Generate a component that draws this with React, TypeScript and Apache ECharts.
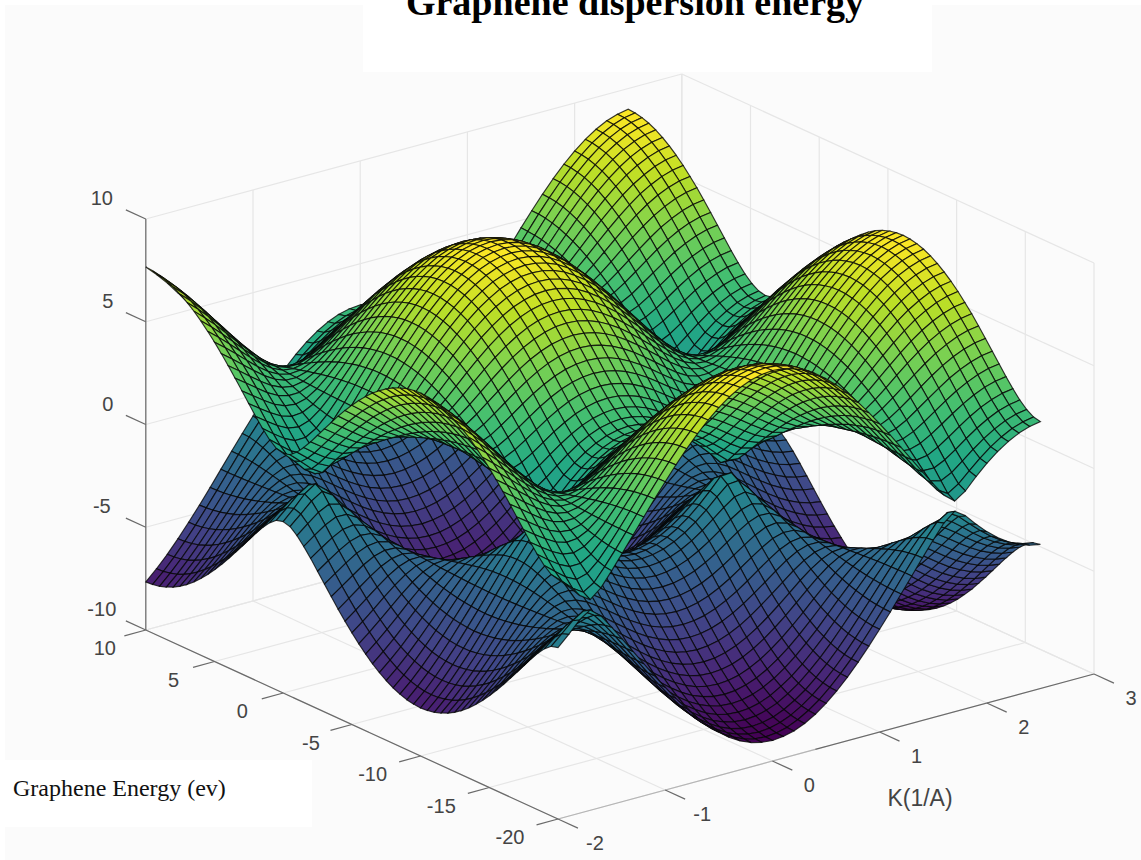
import React, { useEffect, useRef } from "react";
import * as echarts from "echarts";

const kValues = [-2,-1.9,-1.8,-1.7,-1.6,-1.5,-1.4,-1.3,-1.2,-1.1,-1,-0.9,-0.8,-0.7,-0.6,-0.5,-0.4,-0.3,-0.2,-0.1,0,0.1,0.2,0.3,0.4,0.5,0.6,0.7,0.8,0.9,1,1.1,1.2,1.3,1.4,1.5,1.6,1.7,1.8,1.9,2,2.1,2.2,2.3,2.4,2.5];
const qValues = [-20,-19.5,-19,-18.5,-18,-17.5,-17,-16.5,-16,-15.5,-15,-14.5,-14,-13.5,-13,-12.5,-12,-11.5,-11,-10.5,-10,-9.5,-9,-8.5,-8,-7.5,-7,-6.5,-6,-5.5,-5,-4.5,-4,-3.5,-3,-2.5,-2,-1.5,-1,-0.5,0,0.5,1,1.5,2,2.5,3,3.5,4,4.5,5,5.5,6,6.5,7,7.5,8,8.5,9,9.5,10];

const U0 = [1.66,1.16,.60,.25,.68,1.37,2.09,2.83,3.57,4.30,5.00,5.68,6.32,6.91,7.44,7.90,8.29,8.60,8.82,8.95,9.00,8.95,8.82,8.60,8.29,7.90,7.44,6.91,6.32,5.68,5.00,4.30,3.57,2.83,2.09,1.37,.68,.25,.60,1.16,1.66,2.09,2.44,2.71,2.89,2.99];
const U1 = [1.75,1.28,.79,.46,.79,1.42,2.11,2.83,3.56,4.29,4.99,5.67,6.31,6.89,7.42,7.88,8.26,8.57,8.80,8.93,8.98,8.93,8.80,8.57,8.26,7.88,7.42,6.89,6.31,5.67,4.99,4.29,3.56,2.83,2.11,1.42,.79,.46,.79,1.28,1.75,2.17,2.51,2.78,2.96,3.06];
const U2 = [2.03,1.60,1.19,.93,1.07,1.54,2.16,2.84,3.55,4.25,4.94,5.61,6.25,6.83,7.35,7.81,8.19,8.50,8.72,8.85,8.90,8.85,8.72,8.50,8.19,7.81,7.35,6.83,6.25,5.61,4.94,4.25,3.55,2.84,2.16,1.54,1.07,.93,1.19,1.60,2.03,2.42,2.74,3.00,3.18,3.27];
const U3 = [2.41,2.01,1.65,1.40,1.41,1.72,2.23,2.85,3.52,4.20,4.87,5.53,6.15,6.72,7.24,7.70,8.07,8.38,8.60,8.73,8.78,8.73,8.60,8.38,8.07,7.70,7.24,6.72,6.15,5.53,4.87,4.20,3.52,2.85,2.23,1.72,1.41,1.40,1.65,2.01,2.41,2.77,3.08,3.33,3.49,3.58];
const U4 = [2.84,2.47,2.12,1.85,1.77,1.94,2.33,2.86,3.48,4.12,4.77,5.40,6.02,6.58,7.09,7.54,7.91,8.22,8.43,8.56,8.61,8.56,8.43,8.22,7.91,7.54,7.09,6.58,6.02,5.40,4.77,4.12,3.48,2.86,2.33,1.94,1.77,1.85,2.12,2.47,2.84,3.19,3.49,3.72,3.89,3.97];
const U5 = [3.31,2.94,2.59,2.29,2.13,2.18,2.44,2.88,3.43,4.02,4.64,5.25,5.84,6.39,6.90,7.34,7.70,8.01,8.22,8.35,8.39,8.35,8.22,8.01,7.70,7.34,6.90,6.39,5.84,5.25,4.64,4.02,3.43,2.88,2.44,2.18,2.13,2.29,2.59,2.94,3.31,3.65,3.94,4.17,4.33,4.41];
const U6 = [3.78,3.41,3.04,2.71,2.49,2.43,2.57,2.90,3.37,3.91,4.48,5.06,5.64,6.17,6.66,7.09,7.46,7.75,7.96,8.09,8.13,8.09,7.96,7.75,7.46,7.09,6.66,6.17,5.64,5.06,4.48,3.91,3.37,2.90,2.57,2.43,2.49,2.71,3.04,3.41,3.78,4.12,4.40,4.63,4.79,4.87];
const U7 = [4.24,3.87,3.49,3.12,2.84,2.69,2.71,2.93,3.30,3.77,4.30,4.85,5.39,5.91,6.39,6.81,7.17,7.46,7.66,7.79,7.83,7.79,7.66,7.46,7.17,6.81,6.39,5.91,5.39,4.85,4.30,3.77,3.30,2.93,2.71,2.69,2.84,3.12,3.49,3.87,4.24,4.59,4.87,5.10,5.26,5.34];
const U8 = [4.70,4.31,3.91,3.52,3.18,2.94,2.85,2.95,3.22,3.62,4.09,4.60,5.12,5.62,6.08,6.49,6.84,7.12,7.33,7.45,7.49,7.45,7.33,7.12,6.84,6.49,6.08,5.62,5.12,4.60,4.09,3.62,3.22,2.95,2.85,2.94,3.18,3.52,3.91,4.31,4.70,5.05,5.34,5.57,5.73,5.81];
const U9 = [5.13,4.73,4.31,3.89,3.50,3.18,2.99,2.98,3.14,3.45,3.86,4.32,4.81,5.29,5.73,6.13,6.47,6.75,6.95,7.07,7.11,7.07,6.95,6.75,6.47,6.13,5.73,5.29,4.81,4.32,3.86,3.45,3.14,2.98,2.99,3.18,3.50,3.89,4.31,4.73,5.13,5.49,5.78,6.02,6.18,6.26];
const U10 = [5.54,5.13,4.69,4.23,3.79,3.41,3.13,3.00,3.05,3.27,3.61,4.02,4.48,4.93,5.36,5.75,6.08,6.35,6.55,6.67,6.71,6.67,6.55,6.35,6.08,5.75,5.36,4.93,4.48,4.02,3.61,3.27,3.05,3.00,3.13,3.41,3.79,4.23,4.69,5.13,5.54,5.91,6.21,6.45,6.61,6.70];
const U11 = [5.92,5.49,5.03,4.55,4.07,3.63,3.27,3.03,2.97,3.08,3.34,3.70,4.12,4.54,4.95,5.33,5.66,5.92,6.12,6.23,6.28,6.23,6.12,5.92,5.66,5.33,4.95,4.54,4.12,3.70,3.34,3.08,2.97,3.03,3.27,3.63,4.07,4.55,5.03,5.49,5.92,6.30,6.61,6.85,7.02,7.10];
const U12 = [6.27,5.83,5.35,4.84,4.32,3.83,3.39,3.06,2.88,2.88,3.05,3.35,3.73,4.13,4.52,4.89,5.21,5.47,5.66,5.78,5.82,5.78,5.66,5.47,5.21,4.89,4.52,4.13,3.73,3.35,3.05,2.88,2.88,3.06,3.39,3.83,4.32,4.84,5.35,5.83,6.27,6.66,6.97,7.22,7.39,7.48];
const U13 = [6.59,6.13,5.64,5.10,4.55,4.01,3.51,3.08,2.79,2.67,2.75,2.98,3.32,3.69,4.08,4.44,4.75,5.01,5.20,5.31,5.35,5.31,5.20,5.01,4.75,4.44,4.08,3.69,3.32,2.98,2.75,2.67,2.79,3.08,3.51,4.01,4.55,5.10,5.64,6.13,6.59,6.98,7.30,7.56,7.73,7.82];
const U14 = [6.86,6.40,5.89,5.33,4.75,4.17,3.61,3.10,2.71,2.47,2.44,2.59,2.89,3.24,3.61,3.97,4.28,4.54,4.73,4.84,4.88,4.84,4.73,4.54,4.28,3.97,3.61,3.24,2.89,2.59,2.44,2.47,2.71,3.10,3.61,4.17,4.75,5.33,5.89,6.40,6.86,7.27,7.60,7.85,8.03,8.12];
const U15 = [7.10,6.63,6.10,5.53,4.92,4.31,3.70,3.12,2.63,2.28,2.12,2.19,2.44,2.78,3.14,3.50,3.81,4.07,4.26,4.38,4.42,4.38,4.26,4.07,3.81,3.50,3.14,2.78,2.44,2.19,2.12,2.28,2.63,3.12,3.70,4.31,4.92,5.53,6.10,6.63,7.10,7.51,7.85,8.11,8.29,8.38];
const U16 = [7.30,6.82,6.28,5.69,5.07,4.42,3.77,3.14,2.56,2.10,1.81,1.78,1.98,2.30,2.67,3.04,3.36,3.63,3.82,3.94,3.98,3.94,3.82,3.63,3.36,3.04,2.67,2.30,1.98,1.78,1.81,2.10,2.56,3.14,3.77,4.42,5.07,5.69,6.28,6.82,7.30,7.72,8.06,8.32,8.50,8.60];
const U17 = [7.45,6.97,6.42,5.82,5.18,4.51,3.83,3.15,2.50,1.94,1.52,1.36,1.51,1.84,2.23,2.61,2.95,3.23,3.43,3.55,3.60,3.55,3.43,3.23,2.95,2.61,2.23,1.84,1.51,1.36,1.52,1.94,2.50,3.15,3.83,4.51,5.18,5.82,6.42,6.97,7.45,7.88,8.22,8.49,8.67,8.77];
const U18 = [7.57,7.07,6.52,5.91,5.26,4.57,3.87,3.16,2.46,1.81,1.25,.94,1.04,1.41,1.84,2.25,2.61,2.90,3.11,3.23,3.28,3.23,3.11,2.90,2.61,2.25,1.84,1.41,1.04,.94,1.25,1.81,2.46,3.16,3.87,4.57,5.26,5.91,6.52,7.07,7.57,7.99,8.34,8.61,8.79,8.89];
const U19 = [7.63,7.14,6.58,5.96,5.31,4.61,3.90,3.17,2.44,1.73,1.07,.54,.59,1.05,1.55,1.99,2.37,2.67,2.89,3.02,3.07,3.02,2.89,2.67,2.37,1.99,1.55,1.05,.59,.54,1.07,1.73,2.44,3.17,3.90,4.61,5.31,5.96,6.58,7.14,7.63,8.07,8.41,8.68,8.87,8.96];
const U20 = [7.66,7.16,6.60,5.98,5.32,4.63,3.91,3.17,2.43,1.71,1.00,.31,.33,.91,1.44,1.90,2.29,2.60,2.82,2.95,3.00,2.95,2.82,2.60,2.29,1.90,1.44,.91,.33,.31,1.00,1.71,2.43,3.17,3.91,4.63,5.32,5.98,6.60,7.16,7.66,8.09,8.44,8.71,8.89,8.99];

const L0 = [-1.66,-1.16,-.60,-.25,-.68,-1.37,-2.09,-2.83,-3.57,-4.30,-5.00,-5.68,-6.32,-6.91,-7.44,-7.90,-8.29,-8.60,-8.82,-8.95,-9.00,-8.95,-8.82,-8.60,-8.29,-7.90,-7.44,-6.91,-6.32,-5.68,-5.00,-4.30,-3.57,-2.83,-2.09,-1.37,-.68,-.25,-.60,-1.16,-1.66,-2.09,-2.44,-2.71,-2.89,-2.99];
const L1 = [-1.75,-1.28,-.79,-.46,-.79,-1.42,-2.11,-2.83,-3.56,-4.29,-4.99,-5.67,-6.31,-6.89,-7.42,-7.88,-8.26,-8.57,-8.80,-8.93,-8.98,-8.93,-8.80,-8.57,-8.26,-7.88,-7.42,-6.89,-6.31,-5.67,-4.99,-4.29,-3.56,-2.83,-2.11,-1.42,-.79,-.46,-.79,-1.28,-1.75,-2.17,-2.51,-2.78,-2.96,-3.06];
const L2 = [-2.03,-1.60,-1.19,-.93,-1.07,-1.54,-2.16,-2.84,-3.55,-4.25,-4.94,-5.61,-6.25,-6.83,-7.35,-7.81,-8.19,-8.50,-8.72,-8.85,-8.90,-8.85,-8.72,-8.50,-8.19,-7.81,-7.35,-6.83,-6.25,-5.61,-4.94,-4.25,-3.55,-2.84,-2.16,-1.54,-1.07,-.93,-1.19,-1.60,-2.03,-2.42,-2.74,-3.00,-3.18,-3.27];
const L3 = [-2.41,-2.01,-1.65,-1.40,-1.41,-1.72,-2.23,-2.85,-3.52,-4.20,-4.87,-5.53,-6.15,-6.72,-7.24,-7.70,-8.07,-8.38,-8.60,-8.73,-8.78,-8.73,-8.60,-8.38,-8.07,-7.70,-7.24,-6.72,-6.15,-5.53,-4.87,-4.20,-3.52,-2.85,-2.23,-1.72,-1.41,-1.40,-1.65,-2.01,-2.41,-2.77,-3.08,-3.33,-3.49,-3.58];
const L4 = [-2.84,-2.47,-2.12,-1.85,-1.77,-1.94,-2.33,-2.86,-3.48,-4.12,-4.77,-5.40,-6.02,-6.58,-7.09,-7.54,-7.91,-8.22,-8.43,-8.56,-8.61,-8.56,-8.43,-8.22,-7.91,-7.54,-7.09,-6.58,-6.02,-5.40,-4.77,-4.12,-3.48,-2.86,-2.33,-1.94,-1.77,-1.85,-2.12,-2.47,-2.84,-3.19,-3.49,-3.72,-3.89,-3.97];
const L5 = [-3.31,-2.94,-2.59,-2.29,-2.13,-2.18,-2.44,-2.88,-3.43,-4.02,-4.64,-5.25,-5.84,-6.39,-6.90,-7.34,-7.70,-8.01,-8.22,-8.35,-8.39,-8.35,-8.22,-8.01,-7.70,-7.34,-6.90,-6.39,-5.84,-5.25,-4.64,-4.02,-3.43,-2.88,-2.44,-2.18,-2.13,-2.29,-2.59,-2.94,-3.31,-3.65,-3.94,-4.17,-4.33,-4.41];
const L6 = [-3.78,-3.41,-3.04,-2.71,-2.49,-2.43,-2.57,-2.90,-3.37,-3.91,-4.48,-5.06,-5.64,-6.17,-6.66,-7.09,-7.46,-7.75,-7.96,-8.09,-8.13,-8.09,-7.96,-7.75,-7.46,-7.09,-6.66,-6.17,-5.64,-5.06,-4.48,-3.91,-3.37,-2.90,-2.57,-2.43,-2.49,-2.71,-3.04,-3.41,-3.78,-4.12,-4.40,-4.63,-4.79,-4.87];
const L7 = [-4.24,-3.87,-3.49,-3.12,-2.84,-2.69,-2.71,-2.93,-3.30,-3.77,-4.30,-4.85,-5.39,-5.91,-6.39,-6.81,-7.17,-7.46,-7.66,-7.79,-7.83,-7.79,-7.66,-7.46,-7.17,-6.81,-6.39,-5.91,-5.39,-4.85,-4.30,-3.77,-3.30,-2.93,-2.71,-2.69,-2.84,-3.12,-3.49,-3.87,-4.24,-4.59,-4.87,-5.10,-5.26,-5.34];
const L8 = [-4.70,-4.31,-3.91,-3.52,-3.18,-2.94,-2.85,-2.95,-3.22,-3.62,-4.09,-4.60,-5.12,-5.62,-6.08,-6.49,-6.84,-7.12,-7.33,-7.45,-7.49,-7.45,-7.33,-7.12,-6.84,-6.49,-6.08,-5.62,-5.12,-4.60,-4.09,-3.62,-3.22,-2.95,-2.85,-2.94,-3.18,-3.52,-3.91,-4.31,-4.70,-5.05,-5.34,-5.57,-5.73,-5.81];
const L9 = [-5.13,-4.73,-4.31,-3.89,-3.50,-3.18,-2.99,-2.98,-3.14,-3.45,-3.86,-4.32,-4.81,-5.29,-5.73,-6.13,-6.47,-6.75,-6.95,-7.07,-7.11,-7.07,-6.95,-6.75,-6.47,-6.13,-5.73,-5.29,-4.81,-4.32,-3.86,-3.45,-3.14,-2.98,-2.99,-3.18,-3.50,-3.89,-4.31,-4.73,-5.13,-5.49,-5.78,-6.02,-6.18,-6.26];
const L10 = [-5.54,-5.13,-4.69,-4.23,-3.79,-3.41,-3.13,-3.00,-3.05,-3.27,-3.61,-4.02,-4.48,-4.93,-5.36,-5.75,-6.08,-6.35,-6.55,-6.67,-6.71,-6.67,-6.55,-6.35,-6.08,-5.75,-5.36,-4.93,-4.48,-4.02,-3.61,-3.27,-3.05,-3.00,-3.13,-3.41,-3.79,-4.23,-4.69,-5.13,-5.54,-5.91,-6.21,-6.45,-6.61,-6.70];
const L11 = [-5.92,-5.49,-5.03,-4.55,-4.07,-3.63,-3.27,-3.03,-2.97,-3.08,-3.34,-3.70,-4.12,-4.54,-4.95,-5.33,-5.66,-5.92,-6.12,-6.23,-6.28,-6.23,-6.12,-5.92,-5.66,-5.33,-4.95,-4.54,-4.12,-3.70,-3.34,-3.08,-2.97,-3.03,-3.27,-3.63,-4.07,-4.55,-5.03,-5.49,-5.92,-6.30,-6.61,-6.85,-7.02,-7.10];
const L12 = [-6.27,-5.83,-5.35,-4.84,-4.32,-3.83,-3.39,-3.06,-2.88,-2.88,-3.05,-3.35,-3.73,-4.13,-4.52,-4.89,-5.21,-5.47,-5.66,-5.78,-5.82,-5.78,-5.66,-5.47,-5.21,-4.89,-4.52,-4.13,-3.73,-3.35,-3.05,-2.88,-2.88,-3.06,-3.39,-3.83,-4.32,-4.84,-5.35,-5.83,-6.27,-6.66,-6.97,-7.22,-7.39,-7.48];
const L13 = [-6.59,-6.13,-5.64,-5.10,-4.55,-4.01,-3.51,-3.08,-2.79,-2.67,-2.75,-2.98,-3.32,-3.69,-4.08,-4.44,-4.75,-5.01,-5.20,-5.31,-5.35,-5.31,-5.20,-5.01,-4.75,-4.44,-4.08,-3.69,-3.32,-2.98,-2.75,-2.67,-2.79,-3.08,-3.51,-4.01,-4.55,-5.10,-5.64,-6.13,-6.59,-6.98,-7.30,-7.56,-7.73,-7.82];
const L14 = [-6.86,-6.40,-5.89,-5.33,-4.75,-4.17,-3.61,-3.10,-2.71,-2.47,-2.44,-2.59,-2.89,-3.24,-3.61,-3.97,-4.28,-4.54,-4.73,-4.84,-4.88,-4.84,-4.73,-4.54,-4.28,-3.97,-3.61,-3.24,-2.89,-2.59,-2.44,-2.47,-2.71,-3.10,-3.61,-4.17,-4.75,-5.33,-5.89,-6.40,-6.86,-7.27,-7.60,-7.85,-8.03,-8.12];
const L15 = [-7.10,-6.63,-6.10,-5.53,-4.92,-4.31,-3.70,-3.12,-2.63,-2.28,-2.12,-2.19,-2.44,-2.78,-3.14,-3.50,-3.81,-4.07,-4.26,-4.38,-4.42,-4.38,-4.26,-4.07,-3.81,-3.50,-3.14,-2.78,-2.44,-2.19,-2.12,-2.28,-2.63,-3.12,-3.70,-4.31,-4.92,-5.53,-6.10,-6.63,-7.10,-7.51,-7.85,-8.11,-8.29,-8.38];
const L16 = [-7.30,-6.82,-6.28,-5.69,-5.07,-4.42,-3.77,-3.14,-2.56,-2.10,-1.81,-1.78,-1.98,-2.30,-2.67,-3.04,-3.36,-3.63,-3.82,-3.94,-3.98,-3.94,-3.82,-3.63,-3.36,-3.04,-2.67,-2.30,-1.98,-1.78,-1.81,-2.10,-2.56,-3.14,-3.77,-4.42,-5.07,-5.69,-6.28,-6.82,-7.30,-7.72,-8.06,-8.32,-8.50,-8.60];
const L17 = [-7.45,-6.97,-6.42,-5.82,-5.18,-4.51,-3.83,-3.15,-2.50,-1.94,-1.52,-1.36,-1.51,-1.84,-2.23,-2.61,-2.95,-3.23,-3.43,-3.55,-3.60,-3.55,-3.43,-3.23,-2.95,-2.61,-2.23,-1.84,-1.51,-1.36,-1.52,-1.94,-2.50,-3.15,-3.83,-4.51,-5.18,-5.82,-6.42,-6.97,-7.45,-7.88,-8.22,-8.49,-8.67,-8.77];
const L18 = [-7.57,-7.07,-6.52,-5.91,-5.26,-4.57,-3.87,-3.16,-2.46,-1.81,-1.25,-.94,-1.04,-1.41,-1.84,-2.25,-2.61,-2.90,-3.11,-3.23,-3.28,-3.23,-3.11,-2.90,-2.61,-2.25,-1.84,-1.41,-1.04,-.94,-1.25,-1.81,-2.46,-3.16,-3.87,-4.57,-5.26,-5.91,-6.52,-7.07,-7.57,-7.99,-8.34,-8.61,-8.79,-8.89];
const L19 = [-7.63,-7.14,-6.58,-5.96,-5.31,-4.61,-3.90,-3.17,-2.44,-1.73,-1.07,-.54,-.59,-1.05,-1.55,-1.99,-2.37,-2.67,-2.89,-3.02,-3.07,-3.02,-2.89,-2.67,-2.37,-1.99,-1.55,-1.05,-.59,-.54,-1.07,-1.73,-2.44,-3.17,-3.90,-4.61,-5.31,-5.96,-6.58,-7.14,-7.63,-8.07,-8.41,-8.68,-8.87,-8.96];
const L20 = [-7.66,-7.16,-6.60,-5.98,-5.32,-4.63,-3.91,-3.17,-2.43,-1.71,-1.00,-.31,-.33,-.91,-1.44,-1.90,-2.29,-2.60,-2.82,-2.95,-3.00,-2.95,-2.82,-2.60,-2.29,-1.90,-1.44,-.91,-.33,-.31,-1.00,-1.71,-2.43,-3.17,-3.91,-4.63,-5.32,-5.98,-6.60,-7.16,-7.66,-8.09,-8.44,-8.71,-8.89,-8.99];

const upperSheet = [U0,U1,U2,U3,U4,U5,U6,U7,U8,U9,U10,U11,U12,U13,U14,U15,U16,U17,U18,U19,U20,U19,U18,U17,U16,U15,U14,U13,U12,U11,U10,U9,U8,U7,U6,U5,U4,U3,U2,U1,U0,U1,U2,U3,U4,U5,U6,U7,U8,U9,U10,U11,U12,U13,U14,U15,U16,U17,U18,U19,U20];
const lowerSheet = [L0,L1,L2,L3,L4,L5,L6,L7,L8,L9,L10,L11,L12,L13,L14,L15,L16,L17,L18,L19,L20,L19,L18,L17,L16,L15,L14,L13,L12,L11,L10,L9,L8,L7,L6,L5,L4,L3,L2,L1,L0,L1,L2,L3,L4,L5,L6,L7,L8,L9,L10,L11,L12,L13,L14,L15,L16,L17,L18,L19,L20];
const sheets = [upperSheet, lowerSheet];

const kTicks = [-2,-1,0,1,2,3];
const qTicks = [-20,-15,-10,-5,0,5,10];
const eTicks = [-10,-5,0,5,10];

const VIRIDIS = ["#440154","#482475","#414487","#355f8d","#2a788e","#21918c","#22a884","#44bf70","#7ad151","#bddf26","#fde725"];
const LINE_STYLES = [
  { stroke: "#e6e6e6", lineWidth: 1.2 },
  { stroke: "#6a6a6a", lineWidth: 1.2 },
  { stroke: "#b5b5b5", lineWidth: 1.2 },
];
const TEXT_COLOR = "#444444";

// box projection: pixel position of the corner (k=-2, q=-20, E=-10), and pixels per unit
const project = (k: number, q: number, e: number): [number, number] => [
  558 + (k + 2) * 107.2 - (q + 20) * 13.74,
  819 - (k + 2) * 29 - (q + 20) * 6.3 - (e + 10) * 20.55,
];
const depth = (k: number, q: number, e: number) => -77 * k - 16.7 * q + 7.75 * e;

const lerpColor = (t: number) => {
  const p = Math.max(0, Math.min(0.9999, t)) * (VIRIDIS.length - 1);
  const i = Math.floor(p);
  const f = p - i;
  const h = (s: string, o: number) => parseInt(s.substr(o, 2), 16);
  const a = VIRIDIS[i], b = VIRIDIS[i + 1];
  const c = [1, 3, 5].map((o) => Math.round(h(a, o) + (h(b, o) - h(a, o)) * f));
  return `rgb(${c[0]},${c[1]},${c[2]})`;
};

const cornerValues = (s: number, i: number, j: number) => {
  const g = sheets[s];
  return [
    [kValues[i], qValues[j], g[j][i]],
    [kValues[i + 1], qValues[j], g[j][i + 1]],
    [kValues[i + 1], qValues[j + 1], g[j + 1][i + 1]],
    [kValues[i], qValues[j + 1], g[j + 1][i]],
  ];
};

const buildCells = () => {
  const cells: { d: number; value: number[] }[] = [];
  sheets.forEach((_, s) => {
    for (let j = 0; j < qValues.length - 1; j++) {
      for (let i = 0; i < kValues.length - 1; i++) {
        const c = cornerValues(s, i, j);
        const d = c.reduce((acc, p) => acc + depth(p[0], p[1], p[2]), 0) / 4;
        cells.push({ d, value: [s, i, j] });
      }
    }
  });
  cells.sort((a, b) => a.d - b.d);
  return cells.map((c) => c.value);
};

const buildLines = () => {
  const [kMin, kMax] = [kTicks[0], kTicks[kTicks.length - 1]];
  const [qMin, qMax] = [qTicks[0], qTicks[qTicks.length - 1]];
  const [eMin, eMax] = [eTicks[0], eTicks[eTicks.length - 1]];
  const out: number[][] = [];
  kTicks.forEach((k) => {
    out.push([k, qMin, eMin, k, qMax, eMin, 0]);
    out.push([k, qMax, eMin, k, qMax, eMax, 0]);
  });
  qTicks.forEach((q) => {
    out.push([kMin, q, eMin, kMax, q, eMin, 0]);
    out.push([kMax, q, eMin, kMax, q, eMax, 0]);
  });
  eTicks.forEach((e) => {
    out.push([kMin, qMax, e, kMax, qMax, e, 0]);
    out.push([kMax, qMin, e, kMax, qMax, e, 0]);
  });
  out.push([kMin, qMin, eMin, 0.4, qMin, eMin, 2]);
  out.push([0.4, qMin, eMin, kMax, qMin, eMin, 1]);
  out.push([kMin, qMin, eMin, kMin, qMax, eMin, 1]);
  out.push([kMin, qMax, eMin, kMin, qMax, eMax, 1]);
  kTicks.forEach((k) => out.push([k, qMin, eMin, k, qMin - 1.45, eMin, 1]));
  qTicks.forEach((q) => out.push([kMin, q, eMin, kMin - 0.2, q, eMin, 1]));
  eTicks.forEach((e) => out.push([kMin, qMax, e, kMin, qMax + 1.45, e, 1]));
  return out;
};

const buildLabels = () => {
  const kMin = kTicks[0];
  const qMin = qTicks[0], qMax = qTicks[qTicks.length - 1], eMin = eTicks[0];
  const out: any[][] = [];
  kTicks.forEach((k) => out.push([k, qMin, eMin, 37, 24, String(k)]));
  qTicks.forEach((q) => out.push([kMin, q, eMin, q < -5 ? -48 : -41, 18, String(q)]));
  eTicks.forEach((e) => out.push([kMin, qMax, e, e === 5 || e === 0 ? -38 : -44, -21, String(e)]));
  return out;
};
const labelItems = buildLabels();

export default function App() {
  const ref = useRef<HTMLDivElement>(null);
  useEffect(() => {
    document.body.style.margin = "0";
    const chart = echarts.init(ref.current!, undefined, { renderer: "svg" });
    chart.setOption({
      animation: false,
      backgroundColor: "#fbfbfb",
      grid: { left: 0, right: 0, top: 0, bottom: 0 },
      xAxis: { type: "value", min: 0, max: 1141, show: false },
      yAxis: { type: "value", min: 0, max: 860, inverse: true, show: false },
      graphic: [
        { type: "rect", shape: { x: 0, y: 0, width: 5, height: 860 }, style: { fill: "#ffffff" } },
        { type: "rect", shape: { x: 0, y: 0, width: 1141, height: 5 }, style: { fill: "#ffffff" } },
        { type: "rect", shape: { x: 363, y: 0, width: 569, height: 72 }, style: { fill: "#ffffff" } },
        { type: "rect", shape: { x: 5, y: 760, width: 307, height: 67 }, style: { fill: "#ffffff" } },
        { type: "text", x: 635, y: 21, style: { text: "Graphene dispersion energy", fill: "#000000", font: 'bold 38px "Liberation Serif"', textAlign: "center", textVerticalAlign: "bottom" } },
        { type: "text", x: 13, y: 788, style: { text: "Graphene Energy (ev)", fill: "#111111", font: '24px "Liberation Serif"', textAlign: "left", textVerticalAlign: "middle" } },
        { type: "text", x: 920, y: 798, style: { text: "K(1/A)", fill: TEXT_COLOR, font: '23px "Liberation Sans"', textAlign: "center", textVerticalAlign: "middle" } },
      ],
      series: [
        {
          type: "custom",
          name: "box",
          silent: true,
          clip: false,
          z: 2,
          data: buildLines(),
          renderItem: (_: any, api: any) => {
            const a = project(api.value(0), api.value(1), api.value(2));
            const b = project(api.value(3), api.value(4), api.value(5));
            const p = api.coord(a), q = api.coord(b);
            return {
              type: "line",
              shape: { x1: p[0], y1: p[1], x2: q[0], y2: q[1] },
              style: { ...LINE_STYLES[api.value(6)], fill: null },
            };
          },
        },
        {
          type: "custom",
          name: "labels",
          silent: true,
          clip: false,
          z: 3,
          data: labelItems.map((_, i) => [i]),
          renderItem: (params: any, api: any) => {
            const item = labelItems[params.dataIndex];
            const p = api.coord(project(item[0], item[1], item[2]));
            return {
              type: "text",
              x: p[0] + item[3],
              y: p[1] + item[4],
              style: { text: item[5], fill: TEXT_COLOR, font: '20px "Liberation Sans"', textAlign: "center", textVerticalAlign: "middle" },
            };
          },
        },
        {
          type: "custom",
          name: "surface",
          silent: true,
          clip: false,
          z: 4,
          data: buildCells(),
          renderItem: (_: any, api: any) => {
            const c = cornerValues(api.value(0), api.value(1), api.value(2));
            const mean = (c[0][2] + c[1][2] + c[2][2] + c[3][2]) / 4;
            const points = c.map((p) => api.coord(project(p[0], p[1], p[2])));
            return {
              type: "polygon",
              shape: { points },
              style: { fill: lerpColor((mean + 9) / 18), stroke: "rgba(6,6,6,0.8)", lineWidth: 1.15 },
            };
          },
        },
      ],
    });
    return () => chart.dispose();
  }, []);
  return <div ref={ref} style={{ position: "absolute", left: 0, top: 0, width: 1141, height: 860 }} />;
}
